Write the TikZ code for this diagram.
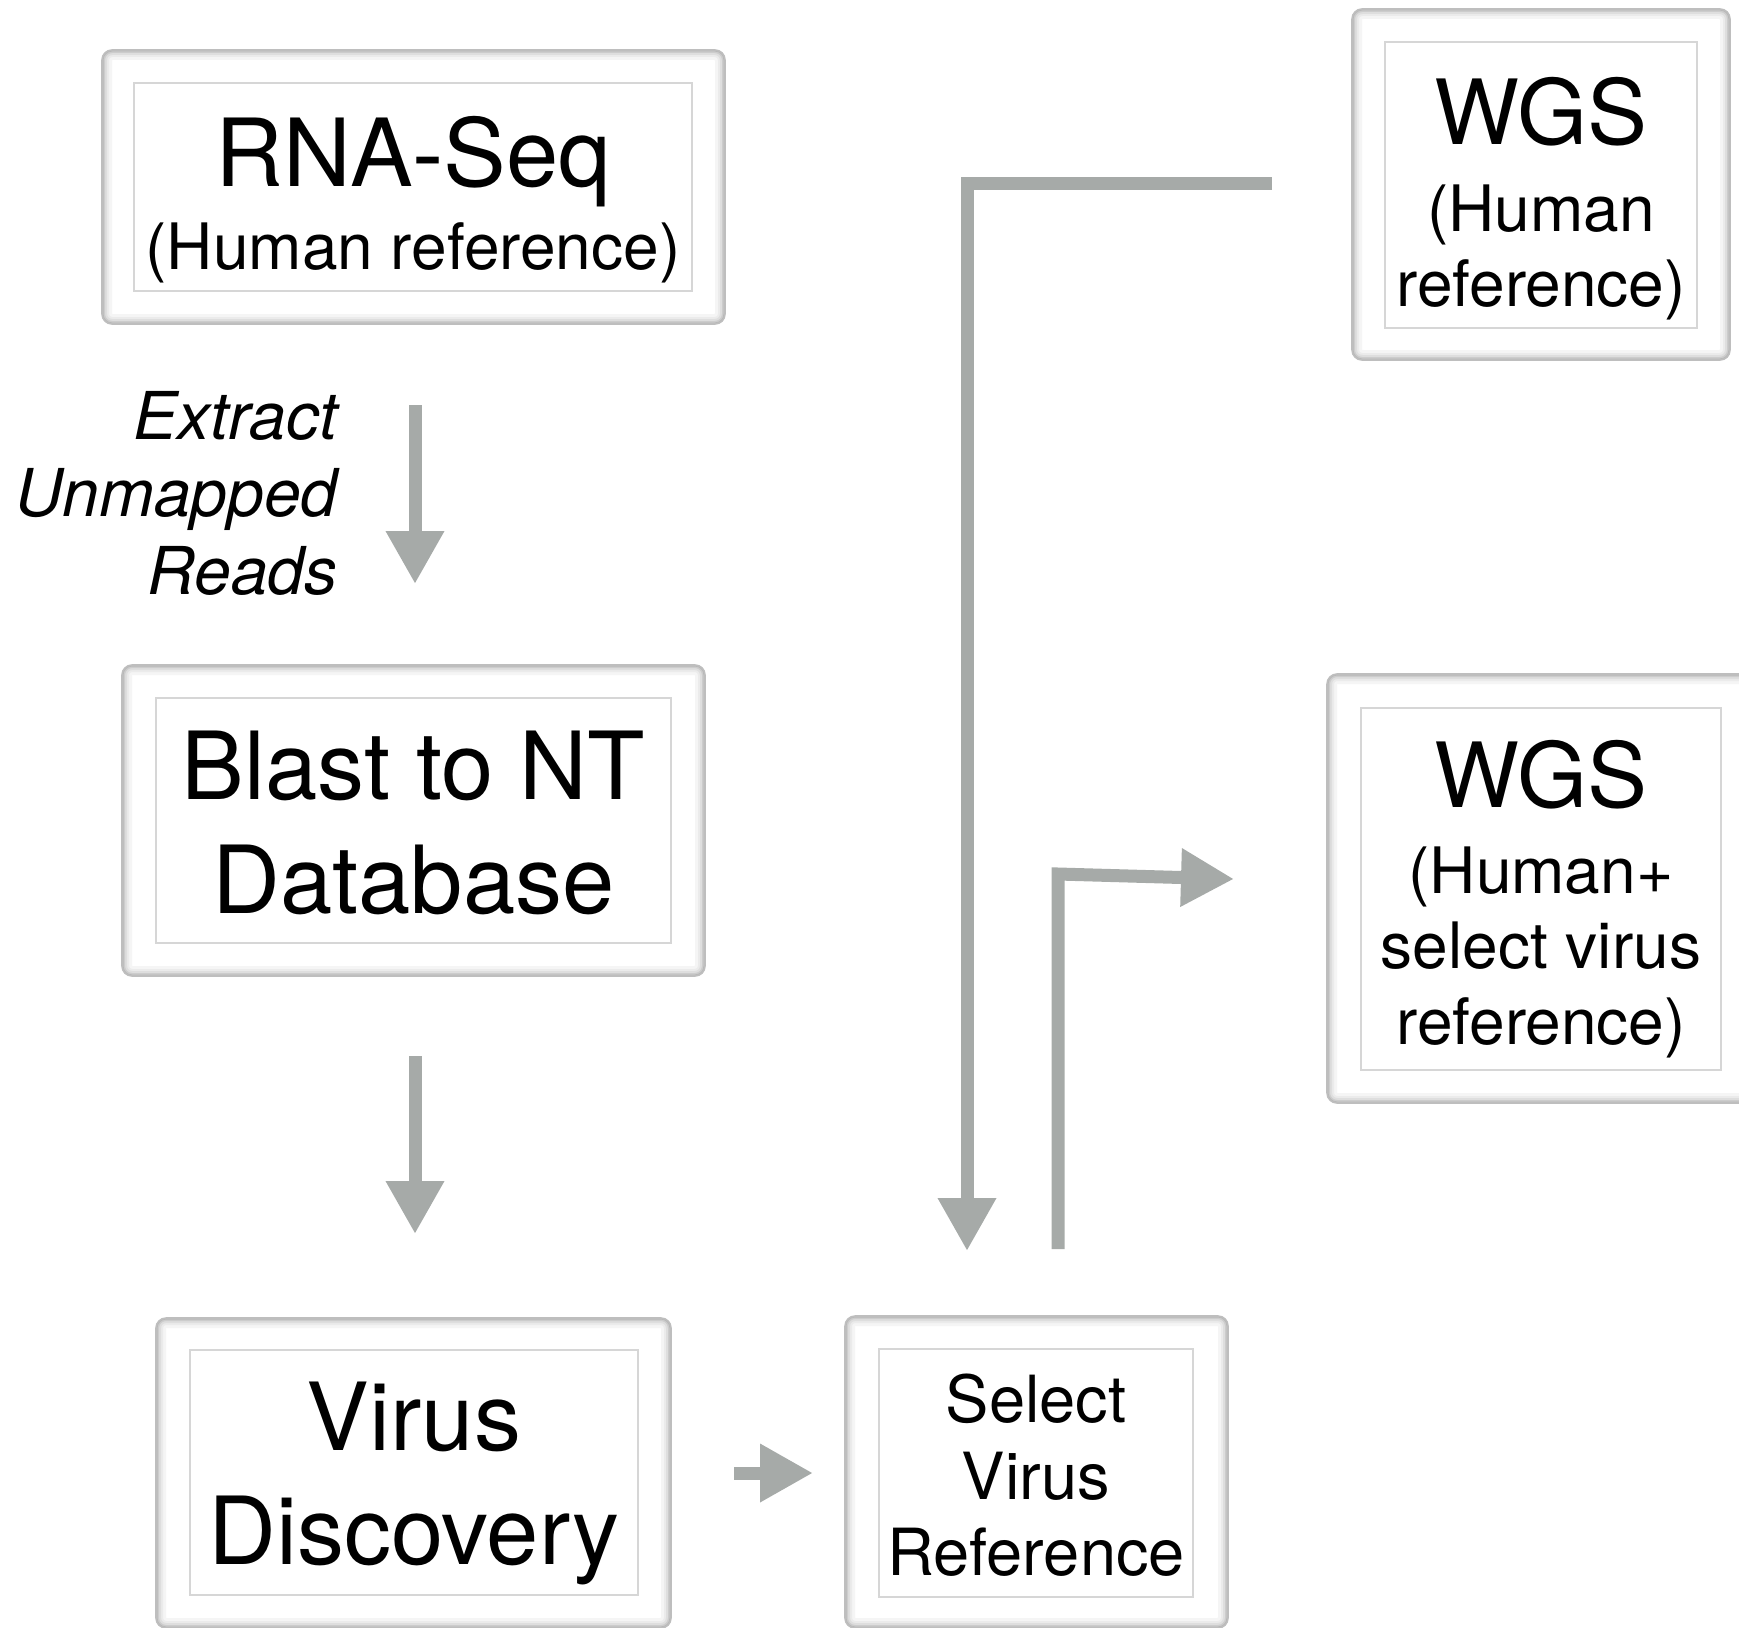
\documentclass[tikz,border=0pt]{standalone}
\usepackage{fontspec}
\setmainfont{TeX Gyre Heros}
\usetikzlibrary{arrows.meta}

\definecolor{arrowgrey}{RGB}{166,170,168}
\definecolor{shellgrey}{RGB}{190,190,190}
\definecolor{panelgrey}{RGB}{214,214,214}

\tikzset{
  shell/.style={draw=shellgrey, line width=0.8pt, rounded corners=5pt, fill=white, inner sep=0pt,
    path picture={
      \foreach \w/\c in {10/4, 7/8, 5/13, 3/20, 1.5/28}
        \draw[black!\c, line width=\w pt, rounded corners=5pt]
          (path picture bounding box.south west) rectangle (path picture bounding box.north east);
    }},
  panel/.style={draw=panelgrey, line width=0.7pt, inner sep=0pt},
  words/.style={inner sep=0pt, align=center},
  flow/.style={draw=arrowgrey, line width=6.5pt, line join=miter, -{Triangle[width=27.5pt,length=26.5pt]}}
}

\begin{document}
\begin{tikzpicture}[x=0.5pt, y=-0.5pt]
        \useasboundingbox (0,0) rectangle (1739,1627);

        % boxes
        \node[shell, minimum width=311.5pt, minimum height=137pt] (rnashell) at (413.5,187) {};
        \node[panel, minimum width=279pt, minimum height=104pt] (rnapanel) at (413,187) {};
        \node[words, font=\fontsize{32}{41.5}\selectfont] (rna) at (413,200) {{\fontsize{47}{41.5}\selectfont RNA-Seq}\\(Human reference)};

        \node[shell, minimum width=189pt, minimum height=175.5pt] (wgsashell) at (1541,184.5) {};
        \node[panel, minimum width=156pt, minimum height=143pt] (wgsapanel) at (1541,185) {};
        \node[words, font=\fontsize{32}{37.5}\selectfont] (wgsa) at (1541,199) {{\fontsize{45}{37.5}\selectfont WGS}\\[6pt](Human\\reference)};

        \node[shell, minimum width=291.5pt, minimum height=155.5pt] (blastshell) at (413.5,820.5) {};
        \node[panel, minimum width=257.5pt, minimum height=122.5pt] (blastpanel) at (413.5,820.5) {};
        \node[words, font=\fontsize{47}{57}\selectfont] (blast) at (413.5,822.5) {Blast to NT\\Database};

        \node[shell, minimum width=214pt, minimum height=214.5pt] (wgsbshell) at (1541,888.5) {};
        \node[panel, minimum width=180pt, minimum height=181pt] (wgsbpanel) at (1541,889) {};
        \node[words, font=\fontsize{32}{37.75}\selectfont] (wgsb) at (1541,899) {{\fontsize{45}{37.75}\selectfont WGS}\\[5.25pt](Human+\\select virus\\reference)};

        \node[shell, minimum width=257.5pt, minimum height=155pt] (virusshell) at (413.5,1473) {};
        \node[panel, minimum width=224pt, minimum height=122.5pt] (viruspanel) at (414,1472.5) {};
        \node[words, font=\fontsize{47}{57}\selectfont] (virus) at (414,1483) {Virus\\Discovery};

        \node[shell, minimum width=191.5pt, minimum height=156pt] (selectshell) at (1036.5,1472) {};
        \node[panel, minimum width=157pt, minimum height=124pt] (selectpanel) at (1036,1473) {};
        \node[words, font=\fontsize{32.5}{38.25}\selectfont] (select) at (1036,1475.5) {Select\\Virus\\Reference};

        \node[words, align=right, anchor=east, font=\itshape\fontsize{33}{38.75}\selectfont] (extractnote) at (338,493) {Extract\\Unmapped\\Reads};

        % arrows
        \coordinate (e1) at (415,405);
        \coordinate (f1) at (415,584);
        \coordinate (e2) at (415,1056);
        \coordinate (f2) at (415,1234);
        \coordinate (e3) at (734,1473);
        \coordinate (f3) at (813,1473);
        \coordinate (e4) at (1272,183);
        \coordinate (k4) at (967,183);
        \coordinate (f4) at (967,1251);
        \coordinate (e5) at (1058,1249);
        \coordinate (k5) at (1058,874);
        \coordinate (f5) at (1234,879);

        \draw[flow] (e1) -- (f1);
        \draw[flow] (e2) -- (f2);
        \draw[flow] (e3) -- (f3);
        \draw[flow] (e4) -- (k4) -- (f4);
        \draw[flow] (e5) -- (k5) -- (f5);
\end{tikzpicture}
\end{document}
